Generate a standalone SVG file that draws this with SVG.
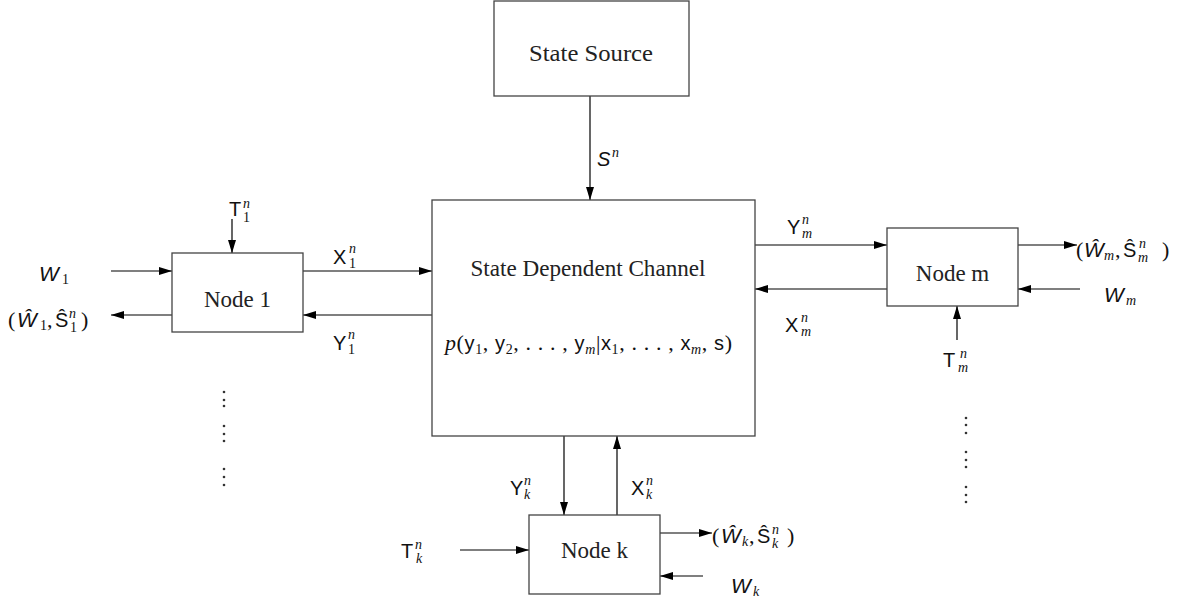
<svg xmlns="http://www.w3.org/2000/svg" width="1183" height="602" viewBox="0 0 1183 602">
<style>
.box{fill:#fff;stroke:#444;stroke-width:1.3}
.ln{stroke:#000;stroke-width:1.2;fill:none}
.nt{font-family:"Liberation Serif","Times New Roman",serif;font-size:23px;fill:#222;text-anchor:middle}
.ss{font-family:"Liberation Sans",Arial,sans-serif;font-size:20px;fill:#111}
.sw{font-family:"Liberation Sans",Arial,sans-serif;font-size:21px;font-style:italic;fill:#111}
.sc{font-family:"Liberation Serif",serif;font-size:14px;fill:#111}
.pr{font-family:"Liberation Serif",serif;font-size:22px;fill:#111}
.it{font-style:italic}
.dot{fill:#333}
</style>
<defs>
<marker id="ah" markerUnits="userSpaceOnUse" markerWidth="14" markerHeight="8" refX="13" refY="4" orient="auto">
<path d="M0,0 L13,4 L0,8 z" fill="#000"/>
</marker>
</defs>
<rect width="1183" height="602" fill="#fff"/>
<g id="connectors">
<line class="ln" x1="590" y1="96" x2="590" y2="200" marker-end="url(#ah)"/>
<line class="ln" x1="232" y1="219" x2="232" y2="253" marker-end="url(#ah)"/>
<line class="ln" x1="111" y1="271" x2="172" y2="271" marker-end="url(#ah)"/>
<line class="ln" x1="303" y1="271" x2="432" y2="271" marker-end="url(#ah)"/>
<line class="ln" x1="432" y1="315" x2="303" y2="315" marker-end="url(#ah)"/>
<line class="ln" x1="172" y1="315" x2="111" y2="315" marker-end="url(#ah)"/>
<line class="ln" x1="755" y1="245" x2="887" y2="245" marker-end="url(#ah)"/>
<line class="ln" x1="1018" y1="245" x2="1077" y2="245" marker-end="url(#ah)"/>
<line class="ln" x1="887" y1="289" x2="755" y2="289" marker-end="url(#ah)"/>
<line class="ln" x1="1080" y1="289" x2="1018" y2="289" marker-end="url(#ah)"/>
<line class="ln" x1="957" y1="340" x2="957" y2="306" marker-end="url(#ah)"/>
<line class="ln" x1="564" y1="436" x2="564" y2="515" marker-end="url(#ah)"/>
<line class="ln" x1="617" y1="515" x2="617" y2="436" marker-end="url(#ah)"/>
<line class="ln" x1="460" y1="550" x2="529" y2="550" marker-end="url(#ah)"/>
<line class="ln" x1="660" y1="533" x2="712" y2="533" marker-end="url(#ah)"/>
<line class="ln" x1="703" y1="576" x2="660" y2="576" marker-end="url(#ah)"/>
</g>
<g id="state-source">
<rect class="box" x="494" y="1" width="195" height="95"/>
<text class="nt" x="591" y="61" textLength="124" lengthAdjust="spacingAndGlyphs">State Source</text>
</g>
<g id="channel">
<rect class="box" x="432" y="200" width="323" height="236"/>
<text class="nt" x="588" y="276" textLength="235" lengthAdjust="spacingAndGlyphs">State Dependent Channel</text>
<text x="445" y="350" font-family="Liberation Serif,serif" font-size="22" fill="#111" textLength="287" lengthAdjust="spacing"><tspan font-style="italic">p</tspan>(<tspan font-family="Liberation Sans,sans-serif" font-size="20">y</tspan><tspan font-size="14" dy="4">1</tspan><tspan dy="-4">, </tspan><tspan font-family="Liberation Sans,sans-serif" font-size="20">y</tspan><tspan font-size="14" dy="4">2</tspan><tspan dy="-4">, . . . , </tspan><tspan font-family="Liberation Sans,sans-serif" font-size="20">y</tspan><tspan font-size="14" font-style="italic" dy="4">m</tspan><tspan dy="-4">|</tspan><tspan font-family="Liberation Sans,sans-serif" font-size="20">x</tspan><tspan font-size="14" dy="4">1</tspan><tspan dy="-4">, . . . , </tspan><tspan font-family="Liberation Sans,sans-serif" font-size="20">x</tspan><tspan font-size="14" font-style="italic" dy="4">m</tspan><tspan dy="-4">, </tspan><tspan font-family="Liberation Sans,sans-serif" font-size="20">s</tspan>)</text>
</g>
<g id="node-1">
<rect class="box" x="172" y="253" width="131" height="79"/>
<text class="nt" x="237.5" y="307">Node 1</text>
</g>
<g id="node-m">
<rect class="box" x="887" y="228" width="131" height="78"/>
<text class="nt" x="952.5" y="281">Node m</text>
</g>
<g id="node-k">
<rect class="box" x="529" y="515" width="131" height="79"/>
<text class="nt" x="594.5" y="558">Node k</text>
</g>
<g id="labels">
<text class="ss it" x="597" y="166">S</text><text class="sc it" x="612" y="157">n</text>
<text class="ss" x="229" y="216">T</text><text class="sc it" x="243" y="208">n</text><text class="sc" x="243" y="222">1</text>
<text class="sw" x="39" y="281">W</text><text class="sc" x="62" y="284">1</text>
<text class="pr" x="8" y="327">(</text><text class="sw" x="17" y="327">Ŵ</text><text class="sc" x="40" y="330">1</text><text class="pr" x="47" y="327">,</text><text class="ss" x="55" y="327">Ŝ</text><text class="sc it" x="69" y="318">n</text><text class="sc" x="70" y="332">1</text><text class="pr" x="81" y="327">)</text>
<text class="ss" x="333" y="264">X</text><text class="sc it" x="349" y="253">n</text><text class="sc" x="349" y="268">1</text>
<text class="ss" x="333" y="350">Y</text><text class="sc it" x="348" y="339">n</text><text class="sc" x="348" y="354">1</text>
<text class="ss" x="787" y="234">Y</text><text class="sc it" x="802" y="224">n</text><text class="sc it" x="802" y="238">m</text>
<text class="ss" x="785" y="332">X</text><text class="sc it" x="801" y="322">n</text><text class="sc it" x="801" y="336">m</text>
<text class="pr" x="1076" y="257">(</text><text class="sw" x="1084" y="257">Ŵ</text><text class="sc it" x="1104" y="260">m</text><text class="pr" x="1115" y="257">,</text><text class="ss" x="1123" y="257">Ŝ</text><text class="sc it" x="1139" y="248">n</text><text class="sc it" x="1138" y="262">m</text><text class="pr" x="1162" y="257">)</text>
<text class="sw" x="1104" y="302">W</text><text class="sc it" x="1126" y="305">m</text>
<text class="ss" x="943" y="367">T</text><text class="sc it" x="960" y="358">n</text><text class="sc it" x="958" y="372">m</text>
<text class="ss" x="510" y="495">Y</text><text class="sc it" x="524" y="485">n</text><text class="sc it" x="524" y="499">k</text>
<text class="ss" x="631" y="495">X</text><text class="sc it" x="646" y="485">n</text><text class="sc it" x="646" y="499">k</text>
<text class="ss" x="401" y="558">T</text><text class="sc it" x="415" y="549">n</text><text class="sc it" x="416" y="563">k</text>
<text class="pr" x="712" y="543">(</text><text class="sw" x="721" y="543">Ŵ</text><text class="sc it" x="742" y="546">k</text><text class="pr" x="749" y="543">,</text><text class="ss" x="757" y="543">Ŝ</text><text class="sc it" x="772" y="534">n</text><text class="sc it" x="772" y="548">k</text><text class="pr" x="787" y="543">)</text>
<text class="sw" x="731" y="593">W</text><text class="sc it" x="753" y="596">k</text>
</g>
<g id="dots">
<circle class="dot" cx="224" cy="392" r="1.3"/><circle class="dot" cx="224" cy="400" r="1.3"/><circle class="dot" cx="224" cy="406" r="1.3"/>
<circle class="dot" cx="224" cy="426" r="1.3"/><circle class="dot" cx="224" cy="434" r="1.3"/><circle class="dot" cx="224" cy="441" r="1.3"/>
<circle class="dot" cx="224" cy="469" r="1.3"/><circle class="dot" cx="224" cy="477" r="1.3"/><circle class="dot" cx="224" cy="485" r="1.3"/>
<circle class="dot" cx="966" cy="418" r="1.3"/><circle class="dot" cx="966" cy="425" r="1.3"/><circle class="dot" cx="966" cy="433" r="1.3"/>
<circle class="dot" cx="966" cy="452" r="1.3"/><circle class="dot" cx="966" cy="460" r="1.3"/><circle class="dot" cx="966" cy="467" r="1.3"/>
<circle class="dot" cx="966" cy="487" r="1.3"/><circle class="dot" cx="966" cy="495" r="1.3"/><circle class="dot" cx="966" cy="502" r="1.3"/>
</g>
</svg>
